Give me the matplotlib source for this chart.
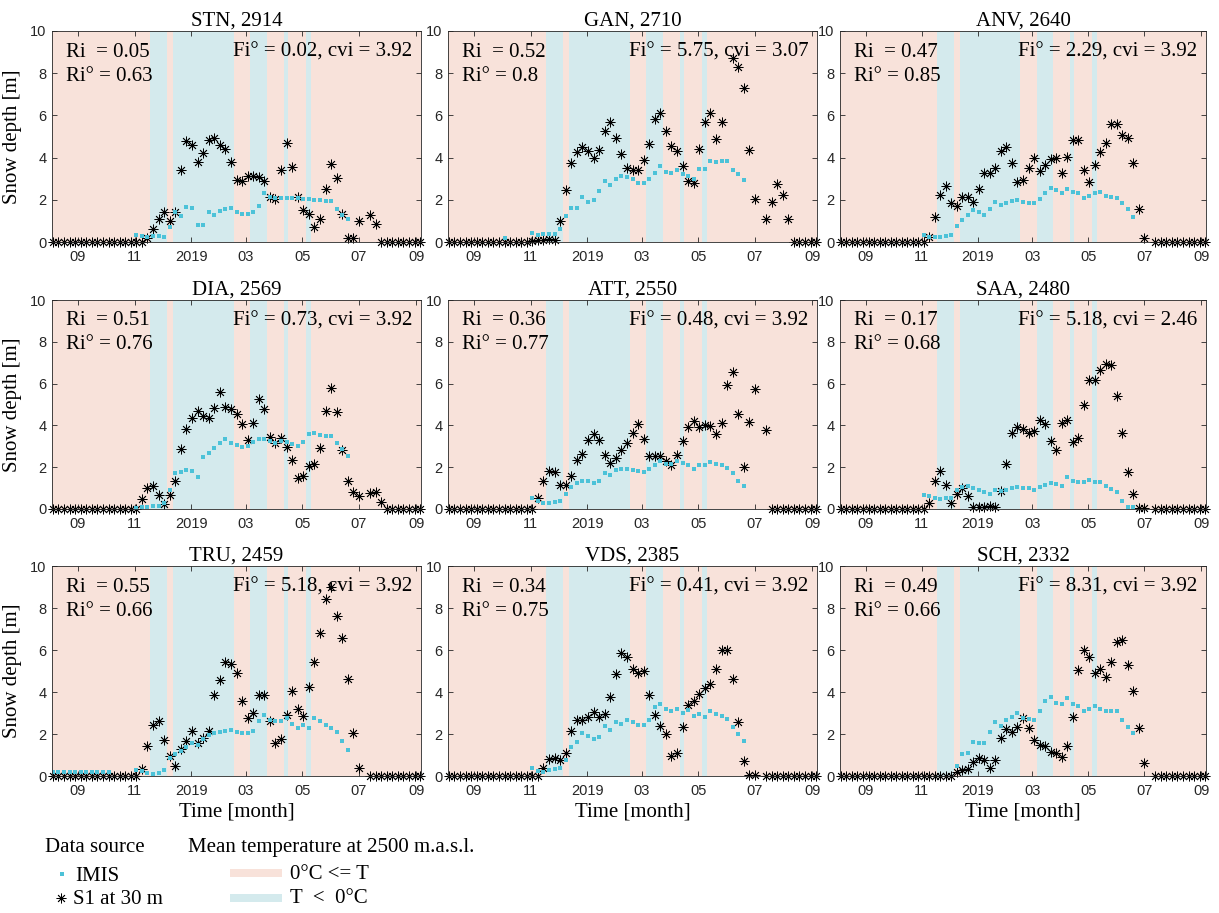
import numpy as np
import matplotlib
matplotlib.use("Agg")
import matplotlib.pyplot as plt
from matplotlib.lines import Line2D
from matplotlib.patches import Rectangle

N = np.nan

# ---- station metadata -------------------------------------------------------
stations = ["STN", "GAN", "ANV", "DIA", "ATT", "SAA", "TRU", "VDS", "SCH"]
elevations = [2914, 2710, 2640, 2569, 2550, 2480, 2459, 2385, 2332]
ri_values = [0.05, 0.52, 0.47, 0.51, 0.36, 0.17, 0.55, 0.34, 0.49]
ri_deg_values = [0.63, 0.8, 0.85, 0.76, 0.77, 0.68, 0.66, 0.75, 0.66]
fi_deg_values = [0.02, 5.75, 2.29, 0.73, 0.48, 5.18, 5.18, 0.41, 8.31]
cvi_values = [3.92, 3.07, 3.92, 3.92, 3.92, 2.46, 3.92, 3.92, 3.92]

# ---- acquisition dates (6-day Sentinel-1 revisit) --------------------------
first_acquisition = np.datetime64("2018-08-05")
revisit_days = 6
n_acquisitions = 67
dates = first_acquisition + np.arange(n_acquisitions) * np.timedelta64(revisit_days, "D")

# ---- snow depth [m]: Sentinel-1 (s1) and IMIS station (imis) ---------------
stn_s1 = [0, 0, 0, 0, 0, 0, 0, 0, 0, 0,
          0, 0, 0, 0, 0, 0, 0, 0.2, 0.6, 1.1,
          1.4, 1.0, 1.4, 3.4, 4.8, 4.6, 3.8, 4.2, 4.85, 4.95,
          4.6, 4.4, 3.8, 2.95, 2.9, 3.15, 3.15, 3.1, 2.9, 2.15,
          2.05, 3.4, 4.7, 3.55, 2.15, 1.5, 1.35, 0.7, 1.1, 2.5,
          3.7, 3.05, 1.35, 0.2, 0.2, 1.0, N, 1.3, 0.85, 0,
          0, 0, 0, 0, 0, 0, 0]
stn_imis = [N, N, N, N, N, N, N, N, N, N,
            N, N, N, N, N, 0.35, 0.3, 0.25, 0.3, 0.3,
            0.25, 0.7, 1.4, 1.25, 1.65, 1.6, 0.8, 0.8, 1.4, 1.3,
            1.45, 1.55, 1.6, 1.4, 1.35, 1.35, 1.4, 1.7, 2.3, 2.15,
            2.1, 2.1, 2.1, 2.1, 2.1, 2.05, 2.05, 2.0, 2.0, 1.95,
            1.95, 1.55, 1.3, 1.1, N, N, N, N, N, N,
            N, N, N, N, N, N, N]

gan_s1 = [0, 0, 0, 0, 0, 0, 0, 0, 0, 0,
          0, 0, 0, 0, 0, 0.05, 0.1, 0.1, 0.15, 0.1,
          1.0, 2.45, 3.75, 4.25, 4.5, 4.3, 4.0, 4.35, 5.25, 5.7,
          4.95, 4.15, 3.5, 3.4, 3.4, 3.9, 4.65, 5.85, 6.1, 5.25,
          4.55, 4.3, 3.6, 2.9, 2.8, 4.4, 5.7, 6.1, 4.9, 5.7,
          N, 8.7, 8.3, 7.3, 4.35, 2.05, N, 1.1, 1.9, 2.75,
          2.25, 1.1, 0, 0, 0, 0, 0]
gan_imis = [N, N, N, N, N, N, N, N, N, N,
            0.2, N, N, N, N, 0.45, 0.35, 0.38, 0.38, 0.38,
            0.6, 1.25, 1.6, 1.6, 2.15, 1.9, 2.0, 2.4, 2.9, 2.7,
            3.0, 3.15, 3.1, 3.0, 2.8, 2.8, 3.0, 3.25, 3.6, 3.3,
            3.25, 3.4, 3.2, 3.15, 3.0, 3.45, 3.45, 3.85, 3.8, 3.85,
            3.85, 3.4, 3.2, 2.95, N, N, N, N, N, N,
            N, N, N, N, N, N, N]

anv_s1 = [0, 0, 0, 0, 0, 0, 0, 0, 0, 0,
          0, 0, 0, 0, 0, 0, 0.25, 1.2, 2.25, 2.65,
          1.85, 1.7, 2.15, 2.15, 1.9, 2.5, 3.25, 3.25, 3.5, 4.3,
          4.5, 3.75, 2.85, 2.95, 3.5, 4.0, 3.35, 3.65, 3.95, 4.0,
          3.25, 4.05, 4.85, 4.85, 3.4, 2.85, 3.65, 4.25, 4.7, 5.6,
          5.6, 5.05, 4.95, 3.75, 1.55, 0.2, N, 0, 0, 0,
          0, 0, 0, 0, 0, 0, 0]
anv_imis = [N, N, N, N, N, N, N, N, N, N,
            N, N, N, N, N, 0.35, 0.25, 0.25, 0.25, 0.3,
            0.35, 0.75, 1.05, 1.3, 1.5, 1.4, 1.3, 1.55, 1.9, 1.75,
            1.85, 1.95, 2.0, 1.9, 1.85, 1.85, 2.05, 2.3, 2.55, 2.45,
            2.3, 2.5, 2.35, 2.3, 2.1, 2.2, 2.3, 2.35, 2.2, 2.15,
            2.1, 1.85, 1.55, 1.2, N, N, N, N, N, N,
            N, N, N, N, N, N, N]

dia_s1 = [0, 0, 0, 0, 0, 0, 0, 0, 0, 0,
          0, 0, 0, 0, 0, 0, 0.5, 1.0, 1.1, 0.65,
          0.25, 0.65, 1.35, 2.85, 3.85, 4.35, 4.7, 4.45, 4.35, 4.85,
          5.6, 4.9, 4.8, 4.55, 4.05, 3.3, 4.1, 5.25, 4.8, 3.45,
          3.15, 3.4, 2.95, 2.35, 1.5, 1.6, 2.05, 2.15, 2.9, 4.7,
          5.8, 4.65, 2.8, 1.35, 0.8, 0.6, N, 0.75, 0.8, 0.35,
          0, 0, 0, 0, 0, 0, 0]
dia_imis = [N, N, N, N, N, N, N, N, N, N,
            N, N, N, N, N, 0.05, 0.1, 0.1, 0.15, 0.15,
            0.3, 0.9, 1.7, 1.75, 1.85, 1.8, 1.55, 2.5, 2.7, 2.9,
            3.15, 3.35, 3.15, 3.05, 2.95, 3.0, 3.2, 3.35, 3.35, 3.25,
            3.15, 3.25, 3.2, 3.1, 3.0, 3.2, 3.6, 3.65, 3.55, 3.5,
            3.5, 3.15, 2.85, 2.55, N, N, N, N, N, N,
            N, N, N, N, N, N, N]

att_s1 = [0, 0, 0, 0, 0, 0, 0, 0, 0, 0,
          0, 0, 0, 0, 0, 0, 0.55, 1.35, 1.8, 1.75,
          1.15, 1.15, 1.6, 2.35, 2.65, 3.3, 3.6, 3.3, 2.6, 2.2,
          2.45, 2.8, 3.15, 3.65, 4.05, 3.35, 2.55, 2.55, 2.55, 2.3,
          2.1, 2.6, 3.25, 3.9, 4.2, 3.9, 4.0, 3.95, 3.6, 4.1,
          5.95, 6.55, 4.55, 2.0, 4.15, 5.75, N, 3.8, 0, 0,
          0, 0, 0, 0, 0, 0, 0]
att_imis = [N, N, N, N, N, N, N, N, N, N,
            N, N, N, N, N, 0.55, 0.37, 0.3, 0.3, 0.32,
            0.4, 0.72, 1.07, 1.25, 1.35, 1.33, 1.25, 1.35, 1.7, 1.65,
            1.85, 1.9, 1.9, 1.85, 1.8, 1.75, 1.9, 2.1, 2.3, 2.15,
            2.15, 2.3, 2.2, 2.1, 1.9, 2.1, 2.1, 2.25, 2.15, 2.1,
            1.95, 1.7, 1.35, 1.1, N, N, N, N, N, N,
            N, N, N, N, N, N, N]

saa_s1 = [0, 0, 0, 0, 0, 0, 0, 0, 0, 0,
          0, 0, 0, 0, 0, 0, 0.3, 1.35, 1.8, 1.15,
          0.27, 0.72, 1.0, 0.6, 0.1, 0.1, 0.1, 0.15, 0.1, 0.85,
          2.15, 3.65, 3.9, 3.85, 3.65, 3.75, 4.25, 4.05, 3.25, 2.8,
          4.1, 4.25, 3.2, 3.4, 5.0, 6.15, 6.15, 6.65, 6.95, 6.9,
          5.4, 3.65, 1.75, 0.7, 0.05, 0.05, N, 0, 0, 0,
          0, 0, 0, 0, 0, 0, 0]
saa_imis = [N, N, N, N, N, N, N, N, N, N,
            N, N, N, N, N, 0.67, 0.6, 0.55, 0.5, 0.52,
            0.55, 0.9, 1.05, 1.1, 1.0, 0.9, 0.8, 0.7, 0.9, 0.88,
            0.93, 1.0, 1.07, 1.0, 1.0, 0.93, 1.05, 1.15, 1.25, 1.2,
            1.1, 1.55, 1.35, 1.3, 1.28, 1.4, 1.3, 1.28, 1.12, 0.95,
            0.8, 0.4, 0.08, 0.08, N, N, N, N, N, N,
            N, N, N, N, N, N, N]

tru_s1 = [0, 0, 0, 0, 0, 0, 0, 0, 0, 0,
          0, 0, 0, 0, 0, 0, 0.35, 1.45, 2.45, 2.6,
          1.7, 0.95, 0.5, 1.3, 1.65, 2.15, 1.55, 1.8, 2.15, 3.85,
          4.55, 5.45, 5.35, 4.9, 3.55, 2.75, 3.0, 3.85, 3.85, 2.6,
          1.55, 1.75, 2.9, 4.05, 3.2, 2.85, 4.25, 5.45, 6.8, 8.45,
          9.0, 7.6, 6.55, 4.6, 2.05, 0.4, N, 0, 0, 0,
          0, 0, 0, 0, 0, 0, 0]
tru_imis = [0.18, 0.18, 0.17, 0.18, 0.18, 0.17, 0.18, 0.18, 0.17, 0.18,
            0.2, N, N, N, N, 0.3, 0.25, 0.15, 0.1, 0.15,
            0.27, 0.88, 1.05, 1.2, 1.4, 1.55, 1.5, 1.75, 1.95, 2.05,
            2.1, 2.15, 2.2, 2.1, 2.05, 2.05, 2.15, 2.6, 2.9, 2.65,
            2.6, 2.6, 2.75, 2.5, 2.3, 2.45, 2.3, 2.75, 2.6, 2.45,
            2.3, 2.1, 1.65, 1.25, N, N, N, N, N, N,
            N, N, N, N, N, N, N]

vds_s1 = [0, 0, 0, 0, 0, 0, 0, 0, 0, 0,
          0, 0, 0, 0, 0, 0, 0, 0.4, 0.8, 0.85,
          0.75, 1.1, 2.15, 2.65, 2.65, 2.8, 3.05, 2.8, 2.95, 3.75,
          4.85, 5.85, 5.65, 5.1, 4.9, 5.0, 3.85, 2.9, 2.4, 2.0,
          0.95, 1.1, 2.35, 3.4, 3.55, 3.9, 4.2, 4.4, 5.1, 6.0,
          6.0, 4.6, 2.55, 0.7, 0.05, 0.05, N, 0, 0, 0,
          0, 0, 0, 0, 0, 0, 0]
vds_imis = [N, N, N, N, N, N, N, N, N, N,
            N, N, N, N, N, 0.37, 0.25, 0.2, 0.3, 0.32,
            0.37, 0.75, 1.4, 1.6, 2.05, 1.9, 1.75, 1.85, 2.4, 2.2,
            2.55, 2.5, 2.65, 2.55, 2.45, 2.45, 2.65, 3.3, 3.45, 3.2,
            3.1, 3.2, 3.0, 3.15, 2.85, 2.95, 2.8, 3.1, 2.95, 2.85,
            2.7, 2.35, 2.0, 1.65, N, N, N, N, N, N,
            N, N, N, N, N, N, N]

sch_s1 = [0, 0, 0, 0, 0, 0, 0, 0, 0, 0,
          0, 0, 0, 0, 0, 0, 0, 0, 0, 0,
          0, 0.2, 0.3, 0.35, 0.65, 0.85, 0.75, 0.4, 0.75, 1.8,
          2.25, 2.1, 2.35, 2.75, 2.3, 1.7, 1.5, 1.45, 1.15, 1.1,
          0.9, 1.45, 2.8, 5.05, 6.0, 5.65, 4.9, 5.1, 4.7, 5.45,
          6.4, 6.5, 5.3, 4.05, 2.3, 0.6, N, 0, 0, 0,
          0, 0, 0, 0, 0, 0, 0]
sch_imis = [N, N, N, N, N, N, N, N, N, N,
            N, N, N, N, N, N, N, N, N, N,
            N, 0.48, 1.05, 1.1, 1.6, 1.55, 1.55, 2.1, 2.55, 2.4,
            2.65, 2.8, 3.0, 2.75, 2.7, 2.65, 3.1, 3.55, 3.75, 3.5,
            3.45, 3.7, 3.45, 3.35, 3.1, 3.2, 3.35, 3.2, 3.1, 3.1,
            3.1, 2.65, 2.35, 2.05, N, N, N, N, N, N,
            N, N, N, N, N, N, N]

s1_series = [stn_s1, gan_s1, anv_s1, dia_s1, att_s1, saa_s1, tru_s1, vds_s1, sch_s1]
imis_series = [stn_imis, gan_imis, anv_imis, dia_imis, att_imis, saa_imis,
               tru_imis, vds_imis, sch_imis]

# ---- sub-zero periods of the mean temperature at 2500 m a.s.l. -------------
cold_start = np.array(["2018-11-18", "2018-12-12", "2019-03-06", "2019-04-11", "2019-05-05"],
                      dtype="datetime64[D]")
cold_end = np.array(["2018-12-06", "2019-02-16", "2019-03-24", "2019-04-16", "2019-05-10"],
                    dtype="datetime64[D]")

# ---- axis setup -------------------------------------------------------------
x_min = np.datetime64("2018-08-04")
x_max = np.datetime64("2019-09-06")
tick_dates = np.array(["2018-09-01", "2018-11-01", "2019-01-01", "2019-03-01",
                       "2019-05-01", "2019-07-01", "2019-09-01"], dtype="datetime64[D]")
tick_labels = ["09", "11", "2019", "03", "05", "07", "09"]
y_ticks = [0, 2, 4, 6, 8, 10]

# ---- styling ----------------------------------------------------------------
SERIF = "Liberation Serif"
SANS = "Liberation Sans"
WARM = "#F8E2DA"
COLD = "#D4EAED"
IMIS_COLOR = "#4CC2D8"
AXIS_COLOR = "#262626"
S1_MARKER = (8, 2, 0)
S1_SIZE = 7
S1_EDGE = 0.6
IMIS_SIZE = 2.7

W, H = 1219, 913
fig = plt.figure(figsize=(W / 100, H / 100), dpi=100)

col_left = [52, 448, 840]
col_width = [369, 369, 366]
row_top = [31, 300, 566]
row_height = [211, 209, 210]


def fig_xy(x, y):
    return x / W, 1 - y / H


for k, name in enumerate(stations):
    r, c = divmod(k, 3)
    left = col_left[c] / W
    bottom = (H - row_top[r] - row_height[r]) / H
    ax = fig.add_axes([left, bottom, col_width[c] / W, row_height[r] / H])

    # temperature background: warm everywhere outside the cold spells
    warm_edges_start = np.concatenate(([x_min], cold_end))
    warm_edges_end = np.concatenate((cold_start, [x_max]))
    for a, b in zip(warm_edges_start, warm_edges_end):
        ax.axvspan(a, b, color=WARM, lw=0, zorder=0)
    for a, b in zip(cold_start, cold_end):
        ax.axvspan(a, b, color=COLD, lw=0, zorder=0)

    ax.plot(dates, np.array(s1_series[k], dtype=float), linestyle="none", marker=S1_MARKER,
            ms=S1_SIZE, mew=S1_EDGE, color="black", zorder=2, clip_on=False)
    ax.plot(dates, np.array(imis_series[k], dtype=float), linestyle="none", marker="s",
            ms=IMIS_SIZE, color=IMIS_COLOR, mew=0, zorder=3)

    ax.set_xlim(x_min, x_max)
    ax.set_ylim(0, 10)
    ax.set_xticks(tick_dates)
    ax.set_xticklabels(tick_labels)
    ax.set_yticks(y_ticks)
    ax.tick_params(direction="in", top=True, right=True, length=3.5, width=0.6,
                   color=AXIS_COLOR, labelcolor=AXIS_COLOR, labelsize=10.5)
    ax.tick_params(axis="x", pad=6)
    ax.tick_params(axis="y", pad=4)
    for lab in ax.get_xticklabels() + ax.get_yticklabels():
        lab.set_fontfamily(SANS)
    for sp in ax.spines.values():
        sp.set_color(AXIS_COLOR)
        sp.set_linewidth(0.6)
        sp.set_zorder(4)

    ax.set_title(f"{name}, {elevations[k]}", fontsize=15, family=SERIF, pad=4)

    ax.text(0.038, 0.90, f"Ri  = {ri_values[k]:g}", transform=ax.transAxes,
            ha="left", va="center", fontsize=15, family=SERIF, zorder=5)
    ax.text(0.038, 0.785, f"Ri\u00b0 = {ri_deg_values[k]:g}", transform=ax.transAxes,
            ha="left", va="center", fontsize=15, family=SERIF, zorder=5)
    ax.text(0.976, 0.90, f"Fi\u00b0 = {fi_deg_values[k]:g}, cvi = {cvi_values[k]:g}",
            transform=ax.transAxes, ha="right", va="center", fontsize=15,
            family=SERIF, zorder=5)

    if c == 0:
        ax.set_ylabel("Snow depth [m]", fontsize=15, family=SERIF)
        ax.yaxis.set_label_coords(-0.08, 0.5)
    if r == 2:
        ax.set_xlabel("Time [month]", fontsize=15, family=SERIF, va="top")
        ax.xaxis.set_label_coords(0.5, -0.125)

# ---- legend -----------------------------------------------------------------
txt = dict(ha="left", va="center", fontsize=15, family=SERIF)
fig.text(*fig_xy(45, 847), "Data source", **txt)
fig.text(*fig_xy(75, 876), "IMIS", **txt)
fig.text(*fig_xy(73, 899), "S1 at 30 m", **txt)
fig.add_artist(Line2D([62 / W], [1 - 874 / H], marker="s", ms=3.5, mew=0,
                      color=IMIS_COLOR, linestyle="none", transform=fig.transFigure))
fig.add_artist(Line2D([61 / W], [1 - 898 / H], marker=S1_MARKER, ms=S1_SIZE, mew=S1_EDGE,
                      color="black", linestyle="none", transform=fig.transFigure))

fig.text(*fig_xy(188, 847), "Mean temperature at 2500 m.a.s.l.", **txt)
fig.add_artist(Rectangle(fig_xy(230, 877), 52 / W, 8 / H, transform=fig.transFigure,
                         facecolor=WARM, edgecolor="none"))
fig.add_artist(Rectangle(fig_xy(230, 902), 52 / W, 8 / H, transform=fig.transFigure,
                         facecolor=COLD, edgecolor="none"))
fig.text(*fig_xy(290, 874), "0\u00b0C <= T", **txt)
fig.text(*fig_xy(290, 898), "T  <  0\u00b0C", **txt)

fig.savefig("out.png", dpi=100)
